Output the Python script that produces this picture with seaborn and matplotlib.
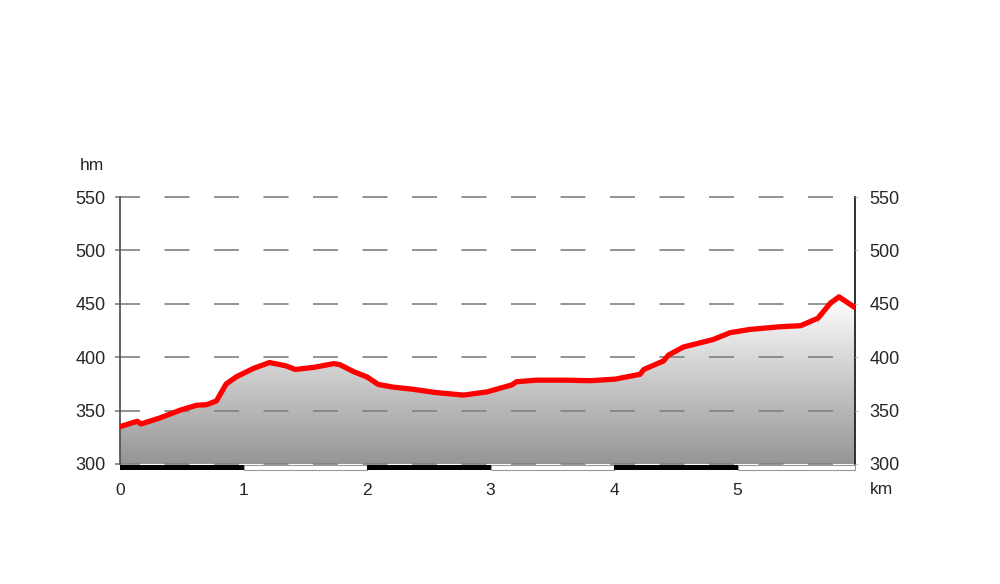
import numpy as np
import matplotlib
matplotlib.use("Agg")
from matplotlib import pyplot as plt
from matplotlib.colors import LinearSegmentedColormap
import seaborn as sns

# Elevation profile (distance in km, elevation in m)
dist_km = [0.00, 0.14, 0.17, 0.32, 0.49, 0.62, 0.70, 0.78, 0.86, 0.94, 1.08,
           1.21, 1.34, 1.42, 1.57, 1.73, 1.78, 1.89, 2.00, 2.09, 2.21, 2.37,
           2.55, 2.78, 2.97, 3.17, 3.21, 3.37, 3.60, 3.81, 4.01, 4.21, 4.24,
           4.37, 4.40, 4.44, 4.56, 4.80, 4.94, 5.10, 5.34, 5.51, 5.65, 5.65,
           5.75, 5.82, 5.95]
elev_m = [335, 340, 337.5, 343, 350.5, 355, 355.5, 359, 375, 381.5, 389.5,
          395, 392, 388.5, 390.5, 394, 393, 386.5, 381.5, 374.5, 372, 370,
          367, 364.5, 367.5, 374, 377, 378.5, 378.5, 378, 379.5, 384, 388.5,
          395, 396.5, 402, 409.5, 416.5, 423, 426, 428.5, 429.5, 432, 441,
          450.5, 456.5, 446.5]

y_ticks = [300, 350, 400, 450, 500, 550]
x_ticks = [0, 1, 2, 3, 4, 5]

sns.set_style("white")
plt.rcParams['font.family'] = ['Liberation Sans', 'DejaVu Sans']

fig = plt.figure(figsize=(10, 5.84), dpi=100)
ax = fig.add_axes([0.12, 1 - 464 / 584, 0.735, 267 / 584])

x_max = dist_km[-1]
ax.set_xlim(0, x_max)
ax.set_ylim(300, 550)

# gradient fill under the profile
cmap = LinearSegmentedColormap.from_list("grey_fade", ["#959595", "#ffffff"])
grad = np.linspace(0, 1, 256).reshape(-1, 1)
img = ax.imshow(grad, extent=[0, x_max, 300, max(elev_m)], origin="lower",
                cmap=cmap, aspect="auto", zorder=1)
poly = ax.fill_between(dist_km, elev_m, 300, color="none", lw=0)
clip = poly.get_paths()[0]
img.set_clip_path(clip, transform=ax.transData)

# dashed horizontal grid, reaching a bit left of the axis
for yv in y_ticks:
    ax.plot([-0.04, x_max], [yv, yv], color="#808080", lw=1.2,
            dashes=(15, 14.7), clip_on=False, zorder=2)

# profile line
sns.lineplot(x=dist_km, y=elev_m, ax=ax, color="#ff0000", lw=3.8,
             zorder=4, solid_joinstyle="round", solid_capstyle="round")

# alternating km scale bar below the axis
for k in range(int(np.ceil(x_max))):
    x0, x1 = k, min(k + 1, x_max)
    if k % 2 == 0:
        ax.fill_between([x0, x1], 294.6, 299.3, color="black", lw=0,
                        clip_on=False, zorder=5)
    else:
        ax.fill_between([x0, x1], 294.6, 299.3, facecolor="white",
                        edgecolor="#9a9a9a", lw=0.8, clip_on=False, zorder=5)

for side in ["top", "bottom"]:
    ax.spines[side].set_visible(False)
ax.spines["left"].set_color("#555555")
ax.spines["left"].set_linewidth(1.3)
ax.spines["right"].set_color("#222222")
ax.spines["right"].set_linewidth(1.3)

ax.set_yticks(y_ticks)
ax.set_yticklabels([str(v) for v in y_ticks], fontsize=13)
ax.tick_params(axis="y", length=0, pad=10.5)
ax.set_xticks(x_ticks)
ax.set_xticklabels([str(v) for v in x_ticks], fontsize=12.5)
ax.tick_params(axis="x", length=0, pad=14)

ax2 = ax.twinx()
ax2.set_ylim(300, 550)
ax2.set_yticks(y_ticks)
ax2.set_yticklabels([str(v) for v in y_ticks], fontsize=13)
ax2.tick_params(axis="y", length=2, color="#cccccc", pad=8.5)
for side in ["top", "bottom", "left", "right"]:
    ax2.spines[side].set_visible(False)

fig.text(80 / 1000, 1 - 165 / 584, "hm", fontsize=12.5, va="center", ha="left")
fig.text(870 / 1000, 1 - 489 / 584, "km", fontsize=12.5, va="center", ha="left")

fig.savefig("out.png", dpi=100)
